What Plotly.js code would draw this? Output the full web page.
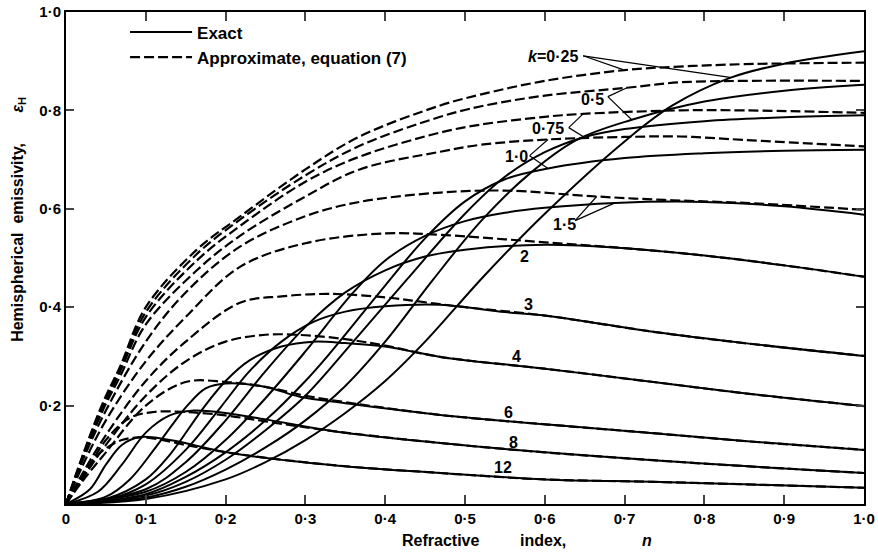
<!DOCTYPE html>
<html><head><meta charset="utf-8">
<script src="https://cdn.plot.ly/plotly-3.0.1.min.js"></script>
<style>html,body{margin:0;padding:0;background:#fff}#chart{width:878px;height:556px}</style>
</head><body><div id="chart"></div>
<script>
// k values
const kLabels = ["0·25","0·5","0·75","1·0","1·5","2","3","4","6","8","12"];

// ---- Exact (solid) curves: refractive index n, emissivity
const exN_025 = [0,0.1,0.2,0.25,0.3,0.35,0.4,0.45,0.523,0.6,0.703,0.76,0.832,0.9,1.0];
const exE_025 = [0,0.01,0.05,0.085,0.13,0.185,0.25,0.33,0.462,0.59,0.741,0.81,0.866,0.895,0.92];
const exN_05 = [0,0.1,0.15,0.2,0.25,0.3,0.35,0.4,0.46,0.52,0.58,0.64,0.709,0.8,0.9,1.0];
const exE_05 = [0,0.013,0.035,0.07,0.115,0.17,0.24,0.33,0.456,0.575,0.67,0.74,0.781,0.818,0.84,0.852];
const exN_075 = [0,0.1,0.15,0.2,0.25,0.3,0.36,0.427,0.5,0.55,0.6,0.648,0.7,0.8,0.9,1.0];
const exE_075 = [0,0.017,0.045,0.09,0.15,0.22,0.33,0.456,0.59,0.665,0.715,0.745,0.762,0.778,0.786,0.79];
const exN_10 = [0,0.1,0.15,0.2,0.25,0.3,0.33,0.393,0.45,0.5,0.55,0.604,0.7,0.8,0.9,1.0];
const exE_10 = [0,0.02,0.055,0.105,0.17,0.25,0.305,0.43,0.54,0.615,0.66,0.682,0.703,0.713,0.718,0.72];
const exN_15 = [0,0.1,0.15,0.2,0.25,0.3,0.36,0.4,0.45,0.5,0.55,0.6,0.688,0.8,0.9,1.0];
const exE_15 = [0,0.025,0.065,0.13,0.215,0.31,0.43,0.495,0.545,0.575,0.592,0.602,0.612,0.614,0.605,0.588];
const exN_2 = [0,0.1,0.15,0.2,0.25,0.3,0.35,0.4,0.45,0.5,0.6,0.7,0.8,0.9,1.0];
const exE_2 = [0,0.03,0.085,0.17,0.27,0.36,0.43,0.475,0.503,0.517,0.527,0.52,0.505,0.485,0.462];
const exN_3 = [0,0.05,0.1,0.15,0.193,0.23,0.27,0.31,0.35,0.4,0.469,0.55,0.6,0.736,0.85,1.0];
const exE_3 = [0,0.008,0.04,0.11,0.195,0.27,0.33,0.37,0.391,0.402,0.405,0.39,0.383,0.35,0.327,0.301];
const exN_4 = [0,0.05,0.1,0.13,0.172,0.2,0.23,0.27,0.31,0.35,0.4,0.469,0.6,0.736,0.85,1.0];
const exE_4 = [0,0.01,0.05,0.1,0.195,0.25,0.292,0.32,0.33,0.327,0.32,0.299,0.275,0.248,0.225,0.199];
const exN_6 = [0,0.05,0.08,0.11,0.135,0.152,0.175,0.2,0.25,0.293,0.35,0.469,0.6,0.736,0.85,1.0];
const exE_6 = [0,0.015,0.05,0.11,0.165,0.2,0.235,0.245,0.238,0.218,0.205,0.181,0.162,0.144,0.128,0.11];
const exN_8 = [0,0.04,0.07,0.1,0.13,0.16,0.2,0.25,0.335,0.469,0.6,0.736,0.85,1.0];
const exE_8 = [0,0.025,0.08,0.145,0.18,0.19,0.185,0.172,0.148,0.124,0.105,0.089,0.077,0.063];
const exN_12 = [0,0.03,0.05,0.07,0.093,0.13,0.209,0.335,0.469,0.6,0.736,0.85,1.0];
const exE_12 = [0,0.03,0.08,0.12,0.136,0.13,0.103,0.079,0.063,0.05,0.045,0.04,0.033];

// ---- Approximate, equation (7) (dashed)
const apN_025 = [0,0.02,0.046,0.068,0.1,0.164,0.218,0.3,0.368,0.469,0.519,0.6,0.7,0.769,0.85,1.0];
const apE_025 = [0,0.095,0.205,0.28,0.40,0.517,0.584,0.68,0.747,0.81,0.832,0.86,0.882,0.889,0.894,0.897];
const apN_05 = [0,0.02,0.046,0.068,0.1,0.164,0.218,0.3,0.368,0.469,0.519,0.6,0.703,0.769,0.85,1.0];
const apE_05 = [0,0.093,0.2,0.275,0.39,0.508,0.578,0.668,0.728,0.787,0.808,0.83,0.846,0.857,0.86,0.86];
const apN_075 = [0,0.02,0.046,0.068,0.1,0.164,0.218,0.3,0.368,0.469,0.519,0.6,0.648,0.769,0.85,1.0];
const apE_075 = [0,0.09,0.195,0.27,0.38,0.495,0.565,0.655,0.706,0.755,0.771,0.787,0.793,0.80,0.80,0.795];
const apN_10 = [0,0.02,0.046,0.068,0.1,0.164,0.218,0.3,0.368,0.469,0.519,0.604,0.7,0.769,0.85,1.0];
const apE_10 = [0,0.088,0.19,0.26,0.365,0.475,0.545,0.625,0.68,0.716,0.73,0.741,0.746,0.747,0.74,0.727];
const apN_15 = [0,0.02,0.05,0.1,0.15,0.218,0.3,0.368,0.469,0.55,0.665,0.75,0.85,1.0];
const apE_15 = [0,0.085,0.19,0.33,0.43,0.523,0.585,0.614,0.633,0.637,0.625,0.618,0.612,0.598];
const apN_2 = [0,0.02,0.05,0.1,0.15,0.218,0.3,0.4,0.469,0.55,0.607,0.7,0.8,0.9,1.0];
const apE_2 = [0,0.075,0.17,0.29,0.38,0.482,0.53,0.55,0.547,0.538,0.531,0.52,0.505,0.485,0.462];
const apN_3 = [0,0.02,0.05,0.1,0.15,0.218,0.27,0.33,0.4,0.45,0.5,0.6,0.736,0.85,1.0];
const apE_3 = [0,0.06,0.14,0.25,0.33,0.409,0.422,0.427,0.42,0.41,0.40,0.383,0.35,0.327,0.301];
const apN_4 = [0,0.02,0.05,0.1,0.15,0.2,0.25,0.3,0.35,0.4,0.469,0.6,0.736,0.85,1.0];
const apE_4 = [0,0.05,0.12,0.22,0.29,0.33,0.344,0.343,0.335,0.322,0.299,0.275,0.248,0.225,0.199];
const apN_6 = [0,0.02,0.05,0.1,0.15,0.2,0.25,0.3,0.35,0.469,0.6,0.736,0.85,1.0];
const apE_6 = [0,0.045,0.105,0.2,0.248,0.248,0.238,0.22,0.207,0.181,0.162,0.144,0.128,0.11];
const apN_8 = [0,0.02,0.05,0.08,0.11,0.15,0.2,0.25,0.335,0.469,0.6,0.736,0.85,1.0];
const apE_8 = [0,0.05,0.13,0.175,0.187,0.187,0.18,0.168,0.148,0.124,0.105,0.089,0.077,0.063];
const apN_12 = [0,0.02,0.04,0.07,0.1,0.15,0.209,0.335,0.469,0.6,0.736,0.85,1.0];
const apE_12 = [0,0.055,0.1,0.13,0.135,0.12,0.103,0.079,0.063,0.05,0.045,0.04,0.033];

// ---- curve labels (text, label position n, emissivity) and leader lines
const labelText = ["<i>k</i>=0·25","0·5","0·75","1·0","1·5","2","3","4","6","8","12"];
const labelN = [0.610,0.660,0.604,0.565,0.625,0.575,0.579,0.565,0.554,0.561,0.548];
const labelE = [0.909,0.822,0.763,0.706,0.568,0.503,0.405,0.299,0.185,0.126,0.075];
const leaderStartN = [0.648,0.679,0.630,0.581,0.638];
const leaderStartE = [0.911,0.828,0.765,0.708,0.576];
const leaderDashN = [0.698,0.703,0.648,0.604,0.665];
const leaderDashE = [0.883,0.846,0.793,0.741,0.625];
const leaderSolidN = [0.832,0.709,0.648,0.604,0.688];
const leaderSolidE = [0.867,0.781,0.747,0.682,0.612];

const tickVals = [0,0.1,0.2,0.3,0.4,0.5,0.6,0.7,0.8,0.9,1.0];
const xTickText = ["0","0·1","0·2","0·3","0·4","0·5","0·6","0·7","0·8","0·9","1·0"];
const yTickVals = [0.2,0.4,0.6,0.8,1.0];
const yTickText = ["0·2","0·4","0·6","0·8","1·0"];

// axis title pieces (text, paper x, paper y)
const xTitleText = ["Refractive","index,","<i>n</i>"];
const xTitleX = [0.469,0.598,0.728];
const yTitleText = ["Hemispherical  emissivity,","<i>ε</i><sub>H</sub>"];
const yTitleY = [0.531,0.812];

const exact = [[exN_025,exE_025],[exN_05,exE_05],[exN_075,exE_075],[exN_10,exE_10],[exN_15,exE_15],[exN_2,exE_2],[exN_3,exE_3],[exN_4,exE_4],[exN_6,exE_6],[exN_8,exE_8],[exN_12,exE_12]];
const approx = [[apN_025,apE_025],[apN_05,apE_05],[apN_075,apE_075],[apN_10,apE_10],[apN_15,apE_15],[apN_2,apE_2],[apN_3,apE_3],[apN_4,apE_4],[apN_6,apE_6],[apN_8,apE_8],[apN_12,apE_12]];

const traces = [];
exact.forEach((c,i)=>traces.push({x:c[0],y:c[1],type:'scatter',mode:'lines',name:'Exact',
  showlegend:i===0,legendrank:1,line:{color:'#000',width:2,shape:'spline',smoothing:1.0}}));
approx.forEach((c,i)=>traces.push({x:c[0],y:c[1],type:'scatter',mode:'lines',name:'Approximate, equation (7)',
  showlegend:i===0,legendrank:2,line:{color:'#000',width:2.2,dash:'10px,4px',shape:'spline',smoothing:1.0}}));

const fam = '"Liberation Sans", Arial, sans-serif';
const bf = (s)=>({family:fam,size:s,color:'#000',weight:'bold'});
const annotations = labelText.map((t,i)=>({x:labelN[i],y:labelE[i],xref:'x',yref:'y',text:t,showarrow:false,font:bf(16)}));
xTitleText.forEach((t,i)=>annotations.push({x:xTitleX[i],y:-0.075,xref:'paper',yref:'paper',xanchor:'center',yanchor:'middle',text:t,showarrow:false,font:bf(16)}));
yTitleText.forEach((t,i)=>annotations.push({x:-0.060,y:yTitleY[i],xref:'paper',yref:'paper',xanchor:'center',yanchor:'middle',text:t,showarrow:false,textangle:-90,font:bf(16)}));

const shapes = [];
leaderStartN.forEach((n,i)=>{
  shapes.push({type:'line',xref:'x',yref:'y',x0:n,y0:leaderStartE[i],x1:leaderDashN[i],y1:leaderDashE[i],line:{color:'#000',width:1.2}});
  shapes.push({type:'line',xref:'x',yref:'y',x0:n,y0:leaderStartE[i],x1:leaderSolidN[i],y1:leaderSolidE[i],line:{color:'#000',width:1.2}});
});

const layout = {
  width:878,height:556,margin:{l:66,r:14,t:12,b:52},
  paper_bgcolor:'#fff',plot_bgcolor:'#fff',
  font:{family:fam,size:14,color:'#000'},
  showlegend:true,
  legend:{x:0.074,y:0.995,xanchor:'left',yanchor:'top',bgcolor:'rgba(0,0,0,0)',itemwidth:62,tracegroupgap:0,font:bf(17)},
  xaxis:{range:[0,1],tickvals:tickVals,ticktext:xTickText,ticks:'inside',ticklen:9,tickwidth:2,mirror:'ticks',
    showline:true,linewidth:2,linecolor:'#000',showgrid:false,zeroline:false,tickfont:bf(15)},
  yaxis:{range:[0,1],tickvals:yTickVals,ticktext:yTickText,ticks:'inside',ticklen:8,tickwidth:2,mirror:'ticks',
    showline:true,linewidth:2,linecolor:'#000',showgrid:false,zeroline:false,tickfont:bf(15)},
  annotations:annotations,shapes:shapes
};
Plotly.newPlot('chart',traces,layout,{displayModeBar:false,staticPlot:true});
</script></body></html>
